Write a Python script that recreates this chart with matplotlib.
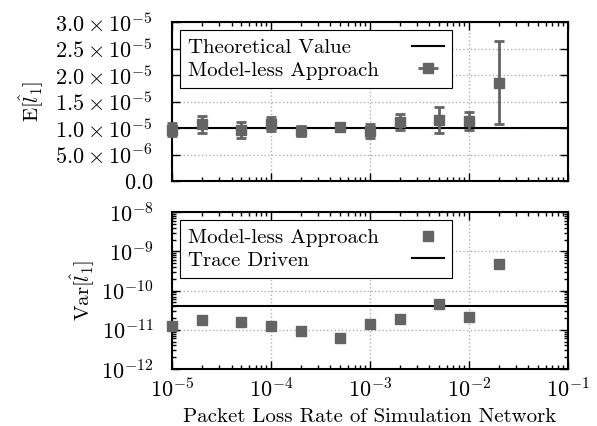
import matplotlib
matplotlib.use("Agg")
import matplotlib.pyplot as plt
from matplotlib.ticker import FixedLocator, FixedFormatter, LogLocator, NullFormatter

plt.rcParams['font.family'] = 'serif'
plt.rcParams['font.serif'] = ['cmr10']
plt.rcParams['mathtext.fontset'] = 'cm'
plt.rcParams['axes.formatter.use_mathtext'] = True
plt.rcParams['axes.unicode_minus'] = False

# packet loss rates
loss = [1e-5, 2e-5, 5e-5, 1e-4, 2e-4, 5e-4, 1e-3, 2e-3, 5e-3, 1e-2, 2e-2]

# mean estimate and its error
mean_l1 = [0.97e-5, 1.07e-5, 0.96e-5, 1.07e-5, 0.94e-5, 1.02e-5,
           0.94e-5, 1.12e-5, 1.15e-5, 1.14e-5, 1.855e-5]
mean_err = [0.12e-5, 0.155e-5, 0.15e-5, 0.13e-5, 0.09e-5, 0.05e-5,
            0.13e-5, 0.15e-5, 0.245e-5, 0.17e-5, 0.78e-5]
theory_mean = 1.0e-5

# variance
var_l1 = [1.25e-11, 1.74e-11, 1.57e-11, 1.25e-11, 9.3e-12, 6.3e-12,
          1.37e-11, 1.84e-11, 4.5e-11, 2.1e-11, 4.65e-10]
trace_var = 3.95e-11

top_ticks = [0, 5e-6, 1e-5, 1.5e-5, 2e-5, 2.5e-5, 3e-5]
top_labels = ['$0.0$', r'$5.0\times10^{-6}$', r'$1.0\times10^{-5}$',
              r'$1.5\times10^{-5}$', r'$2.0\times10^{-5}$',
              r'$2.5\times10^{-5}$', r'$3.0\times10^{-5}$']

gray = '#646464'
fs = 15
tfs = 16

fig = plt.figure(figsize=(5.97, 4.26), dpi=100)
ax1 = fig.add_axes([0.288, 0.575, 0.663, 0.373])
ax2 = fig.add_axes([0.288, 0.134, 0.663, 0.368])


def left_labels(leg):
    # labels left-aligned, handles pushed to the right edge
    fig.canvas.draw()
    r = fig.canvas.get_renderer()
    col = leg._legend_handle_box.get_children()[0]
    items = col.get_children()
    w = max(it.get_bbox(r).width for it in items)
    for it in items:
        it.mode = 'expand'
        it.width = w


leg_kw = dict(loc='upper left', fontsize=fs, markerfirst=False, fancybox=False,
              edgecolor='black', framealpha=1, borderaxespad=0.38,
              handlelength=1.5, handletextpad=1.6, borderpad=0.4,
              labelspacing=0.2)

# top panel
ax1.axhline(theory_mean, color='black', lw=1.5, label='Theoretical Value', zorder=2)
ax1.errorbar(loss, mean_l1, yerr=mean_err, fmt='s', color=gray, ecolor=gray,
             ms=6.5, elinewidth=2, capsize=3.5, capthick=2,
             clip_on=False, zorder=3)
# legend shows the bar lying flat
ax1.errorbar([], [], xerr=[], fmt='s', color=gray, ecolor=gray, ms=6.5,
             elinewidth=2, capsize=3.5, capthick=2, label='Model-less Approach')
ax1.set_xscale('log')
ax1.set_xlim(1e-5, 1e-1)
ax1.set_ylim(0, 3e-5)
ax1.yaxis.set_major_locator(FixedLocator(top_ticks))
ax1.yaxis.set_major_formatter(FixedFormatter(top_labels))
ax1.set_ylabel(r'$\mathrm{E}[\hat{l}_1]$', fontsize=fs, labelpad=7)
leg1 = ax1.legend(**leg_kw)
leg1.get_frame().set_linewidth(0.8)

# bottom panel
ax2.axhline(trace_var, color='black', lw=1.5, label='Trace Driven', zorder=2)
ax2.plot(loss, var_l1, 's', color=gray, ms=6.5, label='Model-less Approach',
         clip_on=False, zorder=3)
ax2.set_xscale('log')
ax2.set_yscale('log')
ax2.set_xlim(1e-5, 1e-1)
ax2.set_ylim(1e-12, 1e-8)
ax2.yaxis.set_major_locator(LogLocator(base=10, numticks=10))
ax2.yaxis.set_minor_locator(LogLocator(base=10, subs=range(2, 10), numticks=10))
ax2.yaxis.set_minor_formatter(NullFormatter())
ax2.set_ylabel(r'$\mathrm{Var}[\hat{l}_1]$', fontsize=fs, labelpad=3)
ax2.set_xlabel('Packet Loss Rate of Simulation Network', fontsize=fs, labelpad=5)
h, l = ax2.get_legend_handles_labels()
leg2 = ax2.legend(h[::-1], l[::-1], **leg_kw)
leg2.get_frame().set_linewidth(0.8)

for ax in (ax1, ax2):
    ax.xaxis.set_major_locator(LogLocator(base=10, numticks=10))
    ax.xaxis.set_minor_locator(LogLocator(base=10, subs=range(2, 10), numticks=10))
    ax.grid(True, which='major', linestyle=':', color='#b0b0b0', lw=1)
    ax.set_axisbelow(True)
    ax.tick_params(which='both', direction='in', top=True, right=True,
                   labelsize=tfs, width=1)
    ax.tick_params(which='major', length=6)
    ax.tick_params(which='minor', length=3)
    ax.tick_params(axis='y', which='both', pad=13.5)
    ax.tick_params(axis='x', which='both', pad=6)
    for s in ax.spines.values():
        s.set_linewidth(1.5)

ax1.xaxis.set_major_formatter(NullFormatter())
ax1.xaxis.set_minor_formatter(NullFormatter())

left_labels(leg1)
left_labels(leg2)

fig.savefig('out.png', dpi=100)
